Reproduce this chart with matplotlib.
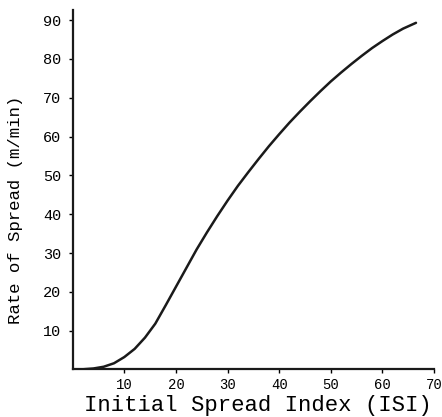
import matplotlib
matplotlib.use("Agg")
import matplotlib.pyplot as plt

# rate of spread vs initial spread index
isi = [0, 2, 4, 6, 8, 10, 12, 14, 16, 18, 20, 22, 24, 26, 28, 30, 32, 34,
       36, 38, 40, 42, 44, 46, 48, 50, 52, 54, 56, 58, 60, 62, 64, 66.5]
ros = [0, 0.05, 0.25, 0.7, 1.6, 3.2, 5.3, 8.2, 11.8, 16.5, 21.3, 26.1, 30.9, 35.3,
       39.5, 43.5, 47.3, 50.8, 54.2, 57.5, 60.6, 63.6, 66.4, 69.1, 71.7, 74.2,
       76.5, 78.7, 80.8, 82.8, 84.6, 86.3, 87.8, 89.3]

xticks = [10, 20, 30, 40, 50, 60, 70]
yticks = [10, 20, 30, 40, 50, 60, 70, 80, 90]

plt.rcParams['font.family'] = ['Liberation Mono', 'DejaVu Sans Mono']

fig = plt.figure(figsize=(4.42, 4.17), dpi=100)
ax = fig.add_axes([0.1645, 0.114, 0.8175, 0.862])

ax.plot(isi, ros, color='#1a1a1a', linewidth=1.8, solid_capstyle='round',
        solid_joinstyle='round')

ax.set_xlim(0, 70)
ax.set_ylim(0, 92.6)
ax.set_xticks(xticks)
ax.set_yticks(yticks)
ax.tick_params(direction='out', length=3, width=1, labelsize=10)
ax.tick_params(axis='x', pad=3)
ax.tick_params(axis='y', pad=5, labelsize=11)

for s in ['top', 'right']:
    ax.spines[s].set_visible(False)
for s in ['left', 'bottom']:
    ax.spines[s].set_linewidth(1.6)
    ax.spines[s].set_color('#1a1a1a')

fig.text(0.584, 0.028, 'Initial Spread Index (ISI)', ha='center', va='center', fontsize=16)
fig.text(0.036, 0.497, 'Rate of Spread (m/min)', ha='center', va='center',
         rotation=90, fontsize=12.5)

fig.savefig('out.png', dpi=100)
